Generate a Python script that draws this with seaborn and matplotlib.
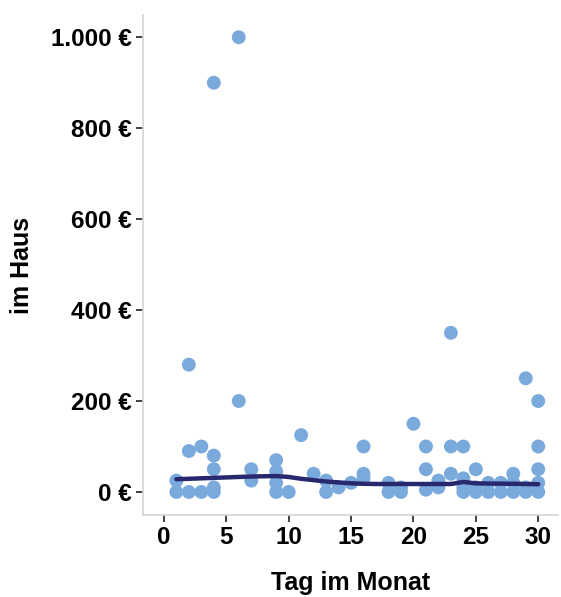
import matplotlib
matplotlib.use("Agg")
import matplotlib.pyplot as plt
from matplotlib.ticker import FuncFormatter
import seaborn as sns
import pandas as pd

# scatter data: day of month and amount (€)
days = [1, 1,
        2, 2, 2,
        3, 3,
        4, 4, 4, 4, 4,
        6, 6,
        7, 7,
        9, 9, 9, 9,
        10,
        11,
        12,
        13, 13,
        14,
        15,
        16, 16, 16,
        18, 18,
        19, 19,
        20,
        21, 21, 21,
        22, 22,
        23, 23, 23,
        24, 24, 24, 24,
        25, 25, 25,
        26, 26,
        27, 27,
        28, 28, 28,
        29, 29, 29,
        30, 30, 30, 30, 30]
amounts = [0, 25,
           0, 90, 280,
           0, 100,
           0, 10, 50, 80, 900,
           200, 1000,
           25, 50,
           0, 20, 45, 70,
           0,
           125,
           40,
           0, 25,
           10,
           20,
           30, 40, 100,
           0, 20,
           0, 10,
           150,
           5, 50, 100,
           10, 25,
           40, 100, 350,
           0, 10, 30, 100,
           0, 10, 50,
           0, 20,
           0, 20,
           0, 20, 40,
           0, 10, 250,
           0, 20, 50, 100, 200]

# smoothed trend line
line_days = [1, 3, 5, 7, 9, 10, 11, 12, 13, 14, 15, 16, 17, 18, 20, 22, 23, 24, 25, 26, 28, 30]
line_vals = [28, 30, 32, 34, 35, 33, 29, 26, 23, 21, 19, 18, 17.5, 17.5, 17.5, 17.5, 17.5, 22, 19, 18.5, 18, 17]

x_ticks = [0, 5, 10, 15, 20, 25, 30]
y_ticks = [0, 200, 400, 600, 800, 1000]

sns.set_style("white")
plt.rcParams["font.family"] = ["Liberation Sans", "DejaVu Sans"]
plt.rcParams["text.color"] = "black"
plt.rcParams["axes.labelcolor"] = "black"
plt.rcParams["xtick.color"] = "black"
plt.rcParams["ytick.color"] = "black"

df = pd.DataFrame({"Tag im Monat": days, "im Haus": amounts})
ldf = pd.DataFrame({"Tag im Monat": line_days, "im Haus": line_vals})

fig = plt.figure(figsize=(5.61, 5.97), dpi=100)
ax = fig.add_axes([0.255, 0.1374, 0.74, 0.8375])

sns.scatterplot(data=df, x="Tag im Monat", y="im Haus", ax=ax, s=100,
                color="#79aadb", edgecolor="none", alpha=1, zorder=2)
sns.lineplot(data=ldf, x="Tag im Monat", y="im Haus", ax=ax, color="#28286f",
             linewidth=3.2, zorder=3)

ax.set_xlim(-1.67, 31.6)
ax.set_ylim(-50.6, 1049)
ax.set_xticks(x_ticks)
ax.set_yticks(y_ticks)
ax.yaxis.set_major_formatter(FuncFormatter(lambda v, p: f"{v:,.0f}".replace(",", ".") + " €"))

for s in ["top", "right"]:
    ax.spines[s].set_visible(False)
for s in ["left", "bottom"]:
    ax.spines[s].set_color("#d4d4d4")
    ax.spines[s].set_linewidth(1.2)

ax.tick_params(axis="both", which="major", direction="out", length=5, width=1.2,
               color="#222222", labelcolor="black", labelsize=17.5, pad=3,
               bottom=True, left=True)
for lab in ax.get_xticklabels() + ax.get_yticklabels():
    lab.set_fontweight("bold")

ax.set_xlabel("Tag im Monat", fontsize=18, fontweight="bold", labelpad=16)
ax.set_ylabel("im Haus", fontsize=18, fontweight="bold", labelpad=12)

fig.savefig("out.png", dpi=100)
